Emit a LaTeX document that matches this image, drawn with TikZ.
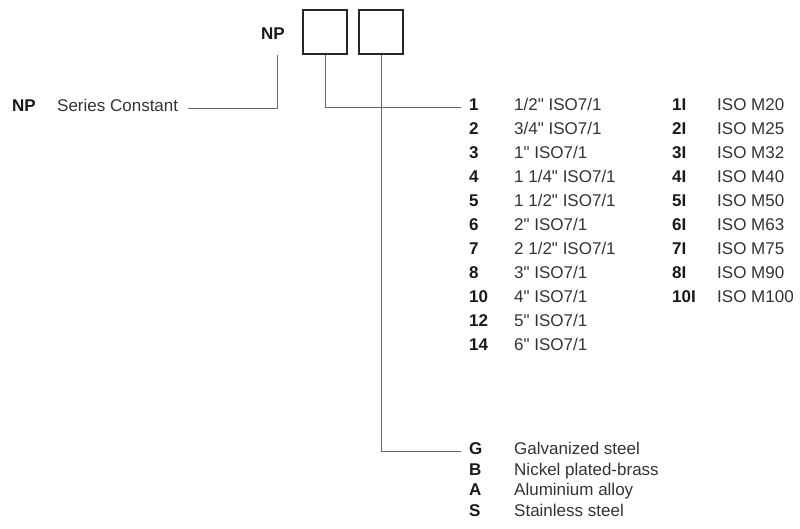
\documentclass[tikz,border=0pt]{standalone}
\usepackage{fontspec}
\setmainfont{Liberation Sans}
\newcommand{\inch}{\textquotedbl}
\begin{document}
\begin{tikzpicture}[x=1pt, y=-1pt,
    every node/.style={inner sep=0pt, anchor=base west, font=\fontsize{17}{20}\selectfont, text=black!80},
    code/.style={font=\fontsize{17}{20}\selectfont\bfseries, text=black!90},
    slot/.style={draw, line width=1.2pt, black!85, minimum size=44pt, anchor=center},
    link/.style={draw, black!60, line width=1pt}]
    \useasboundingbox (0,0) rectangle (800,528);
    % header
    \node[code, anchor=base east] (np) at (285, 39) {NP};
    \node[slot] (b1) at (325, 32) {};
    \node[slot] (b2) at (381, 32) {};
    % series constant
    \node[code] (npk) at (12, 111) {NP};
    \node (npd) at (57, 111) {Series Constant};
    \coordinate (npt) at (277, 55);
    % connections
    \node[code] (c1) at (469, 110) {1};
    \node (d1) at (514, 110) {1/2\inch{} ISO7/1};
    \node[code] (c2) at (469, 134) {2};
    \node (d2) at (514, 134) {3/4\inch{} ISO7/1};
    \node[code] (c3) at (469, 158) {3};
    \node (d3) at (514, 158) {1\inch{} ISO7/1};
    \node[code] (c4) at (469, 182) {4};
    \node (d4) at (514, 182) {1 1/4\inch{} ISO7/1};
    \node[code] (c5) at (469, 206) {5};
    \node (d5) at (514, 206) {1 1/2\inch{} ISO7/1};
    \node[code] (c6) at (469, 230) {6};
    \node (d6) at (514, 230) {2\inch{} ISO7/1};
    \node[code] (c7) at (469, 254) {7};
    \node (d7) at (514, 254) {2 1/2\inch{} ISO7/1};
    \node[code] (c8) at (469, 278) {8};
    \node (d8) at (514, 278) {3\inch{} ISO7/1};
    \node[code] (c10) at (469, 302) {10};
    \node (d10) at (514, 302) {4\inch{} ISO7/1};
    \node[code] (c12) at (469, 326) {12};
    \node (d12) at (514, 326) {5\inch{} ISO7/1};
    \node[code] (c14) at (469, 350) {14};
    \node (d14) at (514, 350) {6\inch{} ISO7/1};
    % metric threads
    \node[code] (m1) at (672, 110) {1I};
    \node (n1) at (717, 110) {ISO M20};
    \node[code] (m2) at (672, 134) {2I};
    \node (n2) at (717, 134) {ISO M25};
    \node[code] (m3) at (672, 158) {3I};
    \node (n3) at (717, 158) {ISO M32};
    \node[code] (m4) at (672, 182) {4I};
    \node (n4) at (717, 182) {ISO M40};
    \node[code] (m5) at (672, 206) {5I};
    \node (n5) at (717, 206) {ISO M50};
    \node[code] (m6) at (672, 230) {6I};
    \node (n6) at (717, 230) {ISO M63};
    \node[code] (m7) at (672, 254) {7I};
    \node (n7) at (717, 254) {ISO M75};
    \node[code] (m8) at (672, 278) {8I};
    \node (n8) at (717, 278) {ISO M90};
    \node[code] (m10) at (672, 302) {10I};
    \node (n10) at (717, 302) {ISO M100};
    % materials
    \node[code] (mg) at (469, 454) {G};
    \node (tg) at (514, 454) {Galvanized steel};
    \node[code] (mb) at (469, 475) {B};
    \node (tb) at (514, 475) {Nickel plated-brass};
    \node[code] (ma) at (469, 495) {A};
    \node (ta) at (514, 495) {Aluminium alloy};
    \node[code] (ms) at (469, 516) {S};
    \node (ts) at (514, 516) {Stainless steel};
    \draw[link] ([xshift=10pt]npd.mid east) -| (npt);
    \draw[link] (b1.south) |- ([xshift=-8pt]c1.mid west);
    \draw[link] (b2.south) |- ([xshift=-8pt]mg.mid west);
\end{tikzpicture}
\end{document}
